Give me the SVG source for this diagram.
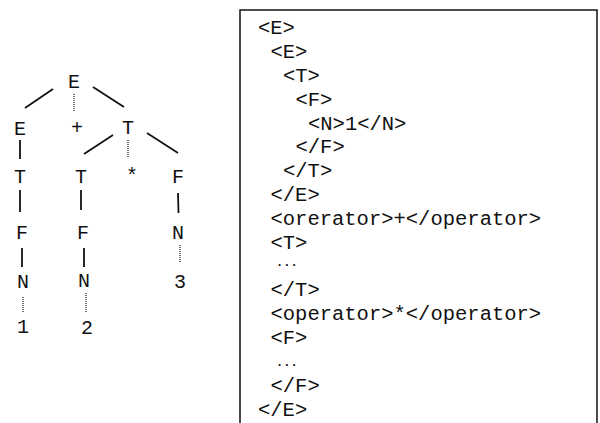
<svg xmlns="http://www.w3.org/2000/svg" width="600" height="423" viewBox="0 0 600 423">
  <style>
    .sym { font-family: "Liberation Mono", "Courier New", monospace; font-size: 20px; fill: #111; text-anchor: middle; }
    .code { font-family: "Liberation Mono", "Courier New", monospace; font-size: 20.5px; fill: #111; }
    .ell { font-family: "Liberation Mono", "Courier New", monospace; font-size: 12px; font-weight: bold; fill: #111; }
    .solid { stroke: #111; stroke-width: 1.8; fill: none; }
    .dot { stroke: #333; stroke-width: 1.4; stroke-dasharray: 1 1; fill: none; }
    .frame { stroke: #111; stroke-width: 1.5; fill: none; }
  </style>

  <!-- parse tree edges -->
  <g id="edges">
    <line class="solid" x1="53" y1="89" x2="25" y2="108"/>
    <line class="dot" x1="74" y1="94" x2="74" y2="111"/>
    <line class="solid" x1="93" y1="87" x2="124" y2="107"/>
    <line class="solid" x1="20" y1="140" x2="20" y2="159"/>
    <line class="solid" x1="113" y1="135" x2="84" y2="154"/>
    <line class="dot" x1="128" y1="140" x2="128" y2="157"/>
    <line class="solid" x1="147" y1="133" x2="178" y2="153"/>
    <line class="solid" x1="20" y1="190" x2="20" y2="212"/>
    <line class="solid" x1="81" y1="190" x2="81" y2="210"/>
    <line class="solid" x1="178" y1="193" x2="178.5" y2="213"/>
    <line class="solid" x1="22" y1="248" x2="22" y2="267"/>
    <line class="solid" x1="84" y1="248" x2="84" y2="267"/>
    <line class="dot" x1="180" y1="245" x2="180" y2="262"/>
    <line class="dot" x1="23" y1="297" x2="23" y2="313"/>
    <line class="dot" x1="86" y1="293" x2="86" y2="312"/>
  </g>

  <!-- parse tree nodes -->
  <g id="tree-E-root"><text class="sym" x="74" y="88">E</text></g>
  <g id="tree-E-left"><text class="sym" x="20" y="135">E</text></g>
  <g id="tree-plus"><text class="sym" x="77" y="134">+</text></g>
  <g id="tree-T-right"><text class="sym" x="128" y="134">T</text></g>
  <g id="tree-T-1"><text class="sym" x="20" y="183">T</text></g>
  <g id="tree-T-2"><text class="sym" x="81" y="183">T</text></g>
  <g id="tree-star"><text class="sym" x="132" y="182">*</text></g>
  <g id="tree-F-3"><text class="sym" x="178" y="183">F</text></g>
  <g id="tree-F-1"><text class="sym" x="22" y="239">F</text></g>
  <g id="tree-F-2"><text class="sym" x="83" y="239">F</text></g>
  <g id="tree-N-3"><text class="sym" x="178" y="239">N</text></g>
  <g id="tree-N-1"><text class="sym" x="23" y="288">N</text></g>
  <g id="tree-N-2"><text class="sym" x="84" y="287">N</text></g>
  <g id="tree-3"><text class="sym" x="180" y="288">3</text></g>
  <g id="tree-1"><text class="sym" x="23" y="333">1</text></g>
  <g id="tree-2"><text class="sym" x="87" y="334">2</text></g>

  <!-- XML listing panel -->
  <g id="xml-listing">
    <path class="frame" d="M240,423 V10 H597 V423"/>
    <text class="code" x="258" y="34">&lt;E&gt;</text>
    <text class="code" x="270.5" y="58">&lt;E&gt;</text>
    <text class="code" x="283" y="82">&lt;T&gt;</text>
    <text class="code" x="295.5" y="106">&lt;F&gt;</text>
    <text class="code" x="308" y="130">&lt;N&gt;1&lt;/N&gt;</text>
    <text class="code" x="295.5" y="153">&lt;/F&gt;</text>
    <text class="code" x="283" y="177">&lt;/T&gt;</text>
    <text class="code" x="270.5" y="201">&lt;/E&gt;</text>
    <text class="code" x="270.5" y="225">&lt;orerator&gt;+&lt;/operator&gt;</text>
    <text class="code" x="270.5" y="249">&lt;T&gt;</text>
    <text class="ell" x="276" y="266">...</text>
    <text class="code" x="270.5" y="296">&lt;/T&gt;</text>
    <text class="code" x="270.5" y="320">&lt;operator&gt;*&lt;/operator&gt;</text>
    <text class="code" x="270.5" y="344">&lt;F&gt;</text>
    <text class="ell" x="276" y="366">...</text>
    <text class="code" x="270.5" y="392">&lt;/F&gt;</text>
    <text class="code" x="258" y="416">&lt;/E&gt;</text>
  </g>
</svg>
